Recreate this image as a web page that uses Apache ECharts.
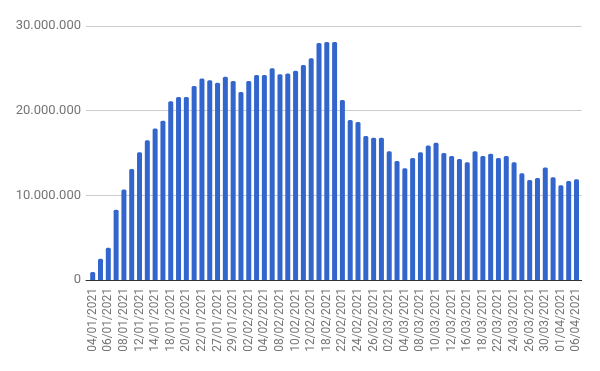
<!DOCTYPE html>
<html>
<head>
<meta charset="utf-8">
<script src="https://cdn.jsdelivr.net/npm/echarts@6/dist/echarts.min.js"></script>
<style>html,body{margin:0;padding:0;background:#fff}#c{width:600px;height:371px}</style>
</head>
<body>
<div id="c"></div>
<script>
const dates = ["04/01/2021","05/01/2021","06/01/2021","07/01/2021","08/01/2021","11/01/2021","12/01/2021","13/01/2021","14/01/2021","15/01/2021",
"18/01/2021","19/01/2021","20/01/2021","21/01/2021","22/01/2021","26/01/2021","27/01/2021","28/01/2021","29/01/2021","01/02/2021",
"02/02/2021","03/02/2021","04/02/2021","05/02/2021","08/02/2021","09/02/2021","10/02/2021","11/02/2021","12/02/2021","16/02/2021",
"18/02/2021","19/02/2021","22/02/2021","23/02/2021","24/02/2021","25/02/2021","26/02/2021","01/03/2021","02/03/2021","03/03/2021",
"04/03/2021","05/03/2021","08/03/2021","09/03/2021","10/03/2021","11/03/2021","12/03/2021","15/03/2021","16/03/2021","17/03/2021",
"18/03/2021","19/03/2021","22/03/2021","23/03/2021","24/03/2021","25/03/2021","26/03/2021","29/03/2021","30/03/2021","31/03/2021",
"01/04/2021","05/04/2021","06/04/2021"];
const values = [940000,2500000,3800000,8300000,10700000,13100000,15100000,16500000,17900000,18800000,
21100000,21600000,21600000,22900000,23800000,23600000,23300000,24000000,23500000,22200000,
23500000,24200000,24200000,25000000,24300000,24400000,24700000,25400000,26200000,28000000,
28100000,28100000,21250000,18900000,18650000,17000000,16800000,16800000,15200000,14050000,
13200000,14400000,15100000,15900000,16200000,15000000,14650000,14300000,13900000,15200000,
14650000,14900000,14400000,14650000,13900000,12600000,11800000,12050000,13300000,12150000,
11200000,11700000,11900000];
const yTicks = [0, 10000000, 20000000, 30000000];

const fmt = v => String(v).replace(/\B(?=(\d{3})+(?!\d))/g, '.');
const yMin = yTicks[0], yMax = yTicks[yTicks.length - 1];
const chart = echarts.init(document.getElementById('c'), null, {renderer: 'canvas'});
chart.setOption({
  animation: false,
  grid: [
    {left: 86, right: 18.3, top: 26, bottom: 91},
    {left: 88.8, right: 19.6, top: 26, bottom: 91}
  ],
  xAxis: [{
    gridIndex: 0,
    type: 'category',
    data: dates,
    axisLine: {show: true, lineStyle: {color: '#333', width: 1}},
    axisTick: {show: false},
    axisLabel: {show: false}
  }, {
    gridIndex: 1,
    type: 'category',
    data: dates,
    axisLine: {show: false},
    axisTick: {show: false},
    axisLabel: {interval: 1, rotate: 90, margin: 8, fontSize: 12, color: '#757575', fontFamily: 'Roboto'}
  }],
  yAxis: [{
    gridIndex: 0,
    type: 'value',
    min: yMin, max: yMax, interval: 10000000,
    axisLine: {show: false},
    axisTick: {show: false},
    splitLine: {lineStyle: {color: '#cccccc', width: 1}},
    axisLabel: {formatter: fmt, fontSize: 13, color: '#757575', fontFamily: 'Roboto', margin: 5}
  }, {
    gridIndex: 1,
    type: 'value',
    min: yMin, max: yMax, interval: 10000000,
    show: false
  }],
  series: [{
    type: 'bar',
    xAxisIndex: 1,
    yAxisIndex: 1,
    data: values,
    barWidth: 5,
    z: 3,
    itemStyle: {color: '#3366cc', borderRadius: [1.5, 1.5, 0, 0]}
  }]
});
</script>
</body>
</html>
